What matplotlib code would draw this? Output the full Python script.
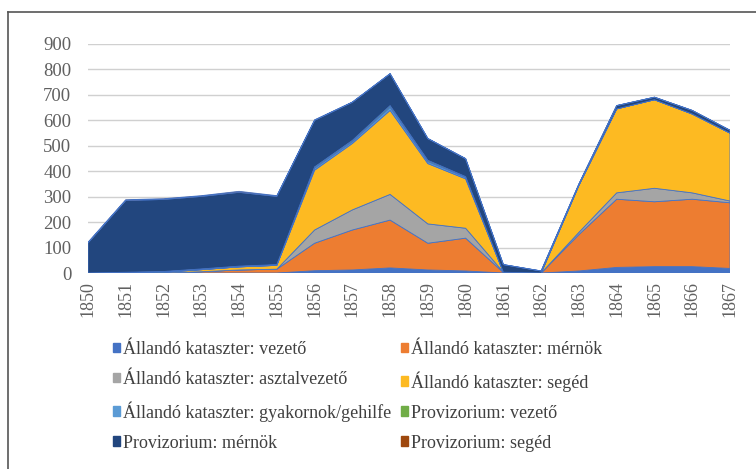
import matplotlib
matplotlib.use("Agg")
import matplotlib.pyplot as plt
from matplotlib.lines import Line2D
import numpy as np

plt.rcParams['font.family'] = ['Liberation Serif', 'DejaVu Serif']

years = list(range(1850, 1868))
series_names = [
    "Állandó kataszter: vezető",
    "Állandó kataszter: mérnök",
    "Állandó kataszter: asztalvezető",
    "Állandó kataszter: segéd",
    "Állandó kataszter: gyakornok/gehilfe",
    "Provizorium: vezető",
    "Provizorium: mérnök",
    "Provizorium: segéd",
]
allando_vezeto = [0, 0, 0, 0, 0, 0, 9, 12, 20, 12, 8, 0, 0, 8, 22, 25, 25, 18]
allando_mernok = [0, 0, 0, 5, 12, 15, 108, 157, 188, 105, 129, 2, 0, 143, 268, 255, 265, 258]
allando_asztal = [0, 0, 0, 0, 0, 0, 52, 79, 101, 76, 39, 1, 0, 9, 25, 53, 25, 7]
allando_seged = [0, 0, 3, 8, 12, 15, 235, 261, 330, 237, 194, 0, 0, 185, 330, 348, 310, 267]
allando_gyak = [0, 0, 0, 0, 0, 0, 8, 7, 12, 8, 6, 0, 0, 0, 0, 0, 0, 0]
prov_vezeto = [0, 3, 3, 3, 3, 3, 5, 5, 7, 5, 3, 0, 0, 0, 0, 0, 0, 0]
prov_mernok = [118, 282, 283, 285, 290, 268, 183, 150, 125, 85, 70, 30, 8, 5, 13, 10, 14, 11]
prov_seged = [3, 3, 3, 3, 4, 3, 2, 1, 1, 1, 1, 0, 0, 0, 0, 0, 0, 0]

colors = ["#4472C4", "#ED7D31", "#A5A5A5", "#FDBA22", "#5B9BD5", "#70AD47", "#22467E", "#9E480E"]

data = [allando_vezeto, allando_mernok, allando_asztal, allando_seged,
        allando_gyak, prov_vezeto, prov_mernok, prov_seged]

fig = plt.figure(figsize=(7.56, 4.69), dpi=100)
ax = fig.add_axes([88/756, 1-273/469, 642/756, 229/469])

ax.stackplot(years, *data, colors=colors, labels=series_names,
             edgecolors=colors, linewidth=0.6)

ax.set_xlim(1850, 1867)
ax.set_ylim(0, 900)
ax.set_yticks(range(0, 901, 100))
ax.set_xticks(years)
ax.set_xticklabels([str(y) for y in years], rotation=90)
ax.yaxis.grid(True, color="#D0D0D0", linewidth=1)
ax.set_axisbelow(True)
for s in ax.spines.values():
    s.set_visible(False)
ax.tick_params(axis='both', length=0, colors="#606060")
ax.tick_params(axis='y', labelsize=13.5, pad=12)
ax.tick_params(axis='x', labelsize=13, pad=6)

# outer frame (left and top edges)
fig.add_artist(Line2D([8/756, 8/756], [0, 1-12/469], transform=fig.transFigure, color="#555555", linewidth=1.2))
fig.add_artist(Line2D([8/756, 1], [1-12/469, 1-12/469], transform=fig.transFigure, color="#555555", linewidth=1.2))

# legend in row-major order (2 columns)
order = [0, 2, 4, 6, 1, 3, 5, 7]
handles = [plt.Rectangle((0, 0), 1, 1, color=colors[i]) for i in order]
labels = [series_names[i] for i in order]
leg = fig.legend(handles, labels, ncol=2, loc="upper left",
                 bbox_to_anchor=(113/756, 1-341/469), frameon=False,
                 fontsize=13, handlelength=0.4, handleheight=0.4,
                 handletextpad=0.15, columnspacing=0.55, labelspacing=0.72,
                 borderpad=0, borderaxespad=0)
for t in leg.get_texts():
    t.set_color("#404040")

fig.savefig("out.png", dpi=100)
